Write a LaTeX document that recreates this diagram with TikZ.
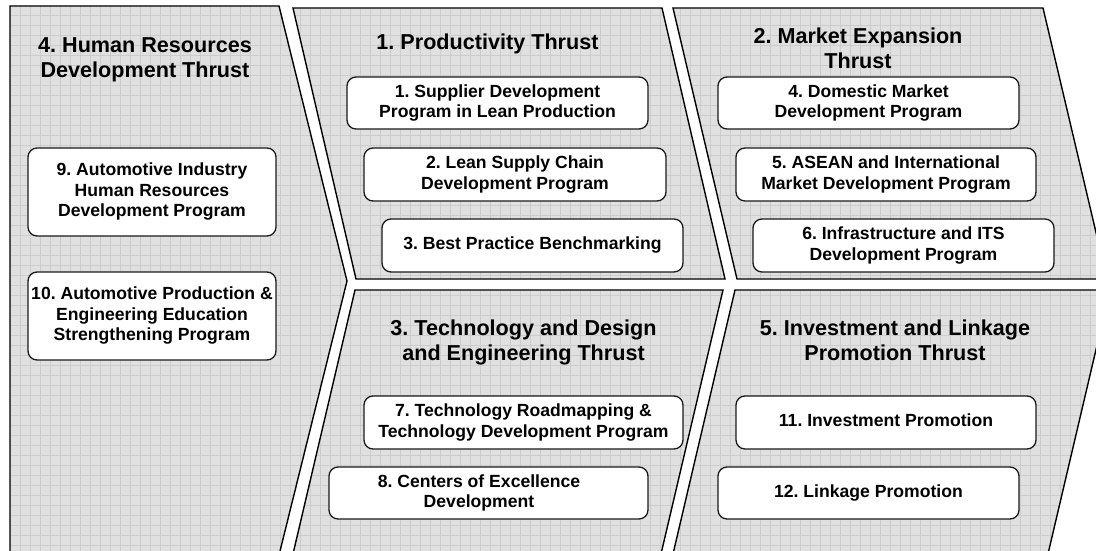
\documentclass[tikz,border=0pt]{standalone}
\usepackage{fontspec}
\setmainfont{Liberation Sans}
\frenchspacing
\definecolor{panelgray}{RGB}{224,224,224}
\definecolor{gridgray}{RGB}{204,204,204}
\newcommand\titlefont{\bfseries\fontsize{21.6pt}{25pt}\selectfont}
\newcommand\boxfont{\bfseries\fontsize{17.6pt}{20.5pt}\selectfont}
\newcommand\dstrut{\rule[-4pt]{0pt}{4pt}}
\newcommand\tstrut{\rule[-4.5pt]{0pt}{4.5pt}}
\begin{document}
\begin{tikzpicture}[x=1pt,y=-1pt,
  panelfill/.style={fill=panelgray},
  panelline/.style={draw=black, line width=1.4pt, line join=miter},
  gridline/.style={draw=gridgray, line width=0.7pt},
  box/.style={draw=black!90, line width=1.3pt, rounded corners=9pt, fill=white,
    font=\boxfont, align=center, inner sep=0pt},
  title/.style={font=\titlefont, align=center, inner sep=0pt}]
\useasboundingbox (0,0) rectangle (1096,551);
\clip (0,0) rectangle (1096,551);
\fill[white] (0,0) rectangle (1096,551);
% panel corners
\coordinate (h1) at (10,6);   \coordinate (h2) at (279,6);
\coordinate (h3) at (347,281); \coordinate (h4) at (277.8,560);
\coordinate (h5) at (10,560);
\coordinate (p1) at (293,8);  \coordinate (p2) at (662,8);
\coordinate (p3) at (725,279); \coordinate (p4) at (356,279);
\coordinate (m1) at (673,8);  \coordinate (m2) at (1043,8);
\coordinate (m3) at (1107,279); \coordinate (m4) at (737,279);
\coordinate (e1) at (355,290); \coordinate (e2) at (723,290);
\coordinate (e3) at (658.4,565); \coordinate (e4) at (290.4,565);
\coordinate (i1) at (735,290); \coordinate (i2) at (1110,290);
\coordinate (i3) at (1045.4,565); \coordinate (i4) at (670.4,565);
% fills
\fill[panelfill] (h1) -- (h2) -- (h3) -- (h4) -- (h5) -- cycle;
\fill[panelfill] (p1) -- (p2) -- (p3) -- (p4) -- cycle;
\fill[panelfill] (m1) -- (m2) -- (m3) -- (m4) -- cycle;
\fill[panelfill] (e1) -- (e2) -- (e3) -- (e4) -- cycle;
\fill[panelfill] (i1) -- (i2) -- (i3) -- (i4) -- cycle;
% grid
\begin{scope}
\clip (h1) -- (h2) -- (h3) -- (h4) -- (h5) -- cycle
      (p1) -- (p2) -- (p3) -- (p4) -- cycle
      (m1) -- (m2) -- (m3) -- (m4) -- cycle
      (e1) -- (e2) -- (e3) -- (e4) -- cycle
      (i1) -- (i2) -- (i3) -- (i4) -- cycle;
\foreach \x in {0.5,10.5,...,1100.5} \draw[gridline] (\x,0) -- (\x,570);
\foreach \y in {5,15,...,565} \draw[gridline] (0,\y) -- (1110,\y);
\end{scope}
% outlines
\draw[panelline] (h1) -- (h2) -- (h3) -- (h4) -- (h5) -- cycle;
\draw[panelline] (p1) -- (p2) -- (p3) -- (p4) -- cycle;
\draw[panelline] (m1) -- (m2) -- (m3) -- (m4) -- cycle;
\draw[panelline] (e1) -- (e2) -- (e3) -- (e4) -- cycle;
\draw[panelline] (i1) -- (i2) -- (i3) -- (i4) -- cycle;
% titles
\node[title] (t4) at (145,60) {4. Human Resources\\Development Thrust\tstrut};
\node[title] (t1) at (487.5,44) {1. Productivity Thrust\tstrut};
\node[title] (t2) at (858,50) {2. Market Expansion\\Thrust\tstrut};
\node[title] (t3) at (523.5,342) {3. Technology and Design\\and Engineering Thrust\tstrut};
\node[title] (t5) at (895,342) {5. Investment and Linkage\\Promotion Thrust\tstrut};
% boxes
\node[box, minimum width=248pt, minimum height=88pt] (b9) at (152,192)
  {9. Automotive Industry\\Human Resources\\Development Program\dstrut};
\node[box, minimum width=248pt, minimum height=88pt] (b10) at (152,316)
  {10. Automotive Production \&\\Engineering Education\\Strengthening Program\dstrut};
\node[box, minimum width=301pt, minimum height=52pt] (b1) at (497.5,103)
  {1. Supplier Development\\Program in Lean Production\dstrut};
\node[box, minimum width=302pt, minimum height=53pt] (b2) at (515,174.5)
  {2. Lean Supply Chain\\Development Program\dstrut};
\node[box, minimum width=301pt, minimum height=53pt] (b3) at (532.5,245.5)
  {3. Best Practice Benchmarking\dstrut};
\node[box, minimum width=301pt, minimum height=52pt] (b4) at (868.5,103)
  {4. Domestic Market\\Development Program\dstrut};
\node[box, minimum width=300pt, minimum height=53pt] (b5) at (886,174.5)
  {5. ASEAN and International\\Market Development Program\dstrut};
\node[box, minimum width=301pt, minimum height=53pt] (b6) at (903.5,245.5)
  {6. Infrastructure and ITS\\Development Program\dstrut};
\node[box, minimum width=319pt, minimum height=53pt] (b7) at (523.5,422.5)
  {7. Technology Roadmapping \&\\Technology Development Program\dstrut};
\node[box, minimum width=319pt, minimum height=52pt,
  label={[font=\boxfont, align=center, inner sep=0pt, xshift=-9.5pt]center:{8. Centers of Excellence\\Development\dstrut}}] (b8) at (488.5,493) {};
\node[box, minimum width=300pt, minimum height=53pt] (b11) at (886,422.5)
  {11. Investment Promotion\dstrut};
\node[box, minimum width=301pt, minimum height=52pt] (b12) at (868.5,493)
  {12. Linkage Promotion\dstrut};
\end{tikzpicture}
\end{document}
